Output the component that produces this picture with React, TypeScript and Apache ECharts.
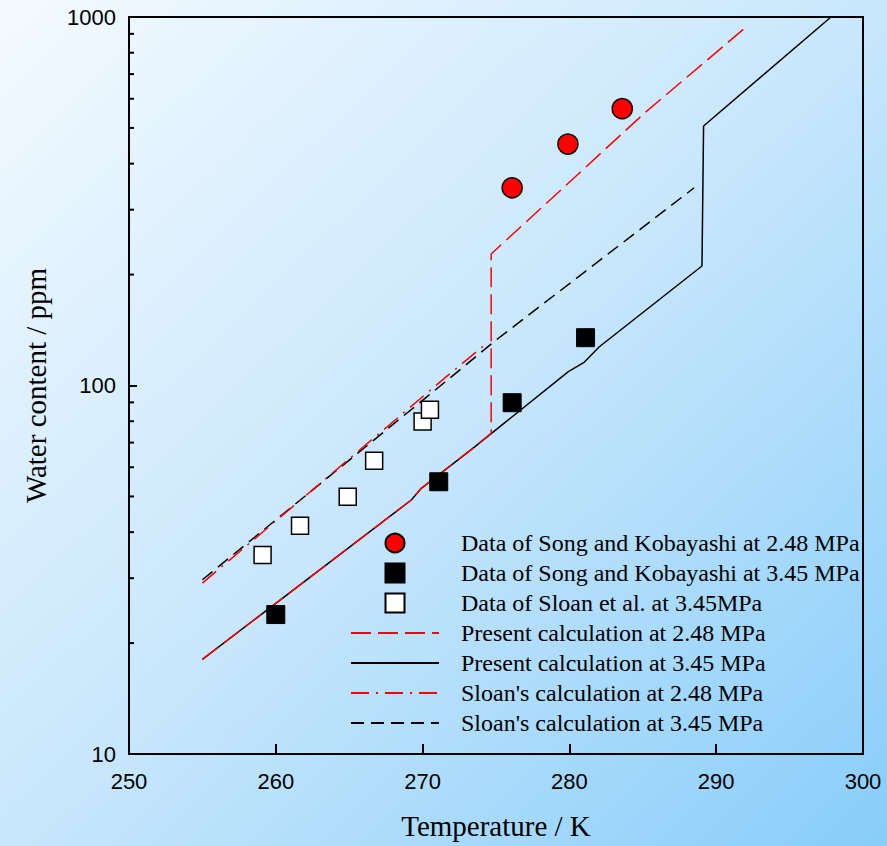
import React, { useEffect, useRef } from "react";
import * as echarts from "echarts";

// ---- data (Temperature K, Water content ppm) ----
const songKobayashi248: [number, number][] = [
  [276.1, 344],
  [279.9, 452],
  [283.6, 564],
];
const songKobayashi345: [number, number][] = [
  [260.0, 23.9],
  [271.1, 54.8],
  [276.1, 89.8],
  [281.1, 134.8],
];
const sloanData345: [number, number][] = [
  [259.1, 34.7],
  [261.65, 41.6],
  [264.9, 49.9],
  [266.7, 62.5],
  [270.0, 79.8],
  [270.5, 86.0],
];
const presentCalc248: [number, number][] = [
  [255.0, 18.07],
  [269.23, 48.9],
  [269.91, 52.6],
  [273.42, 67.5],
  [274.67, 74.2],
  [274.67, 227.5],
  [279.54, 342.8],
  [285.1, 548],
  [292.02, 938],
];
const presentCalc345: [number, number][] = [
  [255.0, 18.07],
  [269.23, 48.9],
  [269.91, 52.6],
  [273.42, 67.5],
  [279.93, 109.0],
  [280.97, 115.3],
  [282.04, 127.4],
  [289.03, 211],
  [289.14, 506],
  [297.82, 1000],
];
const sloanCalc248: [number, number][] = [
  [255.0, 29.1],
  [271.84, 107.5],
  [274.37, 130.2],
];
const sloanCalc345: [number, number][] = [
  [255.0, 29.7],
  [271.84, 104.6],
  [275.01, 132.9],
  [288.5, 344],
];
const minorTickValues: number[] = [20, 30, 40, 50, 60, 70, 80, 90, 200, 300, 400, 500, 600, 700, 800, 900];

const names = [
  "Data of Song and Kobayashi at 2.48 MPa",
  "Data of Song and Kobayashi at 3.45 MPa",
  "Data of Sloan et al. at 3.45MPa",
  "Present calculation at 2.48 MPa",
  "Present calculation at 3.45 MPa",
  "Sloan's calculation at 2.48 MPa",
  "Sloan's calculation at 3.45 MPa",
];

const SERIF = "'Liberation Serif', 'Times New Roman', serif";
const SANS = "'Liberation Sans', Arial, sans-serif";
const SQUARE = "path://M0,0L10,0L10,10L0,10Z";

export default function App() {
  const ref = useRef<HTMLDivElement>(null);
  useEffect(() => {
    if (!ref.current) return;
    const chart = echarts.init(ref.current, undefined, { renderer: "svg" });
    const legendData = names.map((n, i) =>
      i >= 3 ? { name: n, itemStyle: { opacity: 0 } } : { name: n }
    );
    const option: any = {
      animation: false,
      backgroundColor: "transparent",
      grid: {
        left: 129,
        right: 24,
        top: 17,
        bottom: 92,
        show: true,
        borderColor: "#000",
        borderWidth: 2,
        backgroundColor: "transparent",
      },
      legend: {
        orient: "vertical",
        left: 350,
        top: 531,
        padding: 0,
        itemWidth: 88,
        itemHeight: 19,
        itemGap: 6,
        textStyle: { fontFamily: SERIF, fontSize: 24, color: "#000", padding: [0, 0, 0, 17] },
        data: legendData,
      },
      xAxis: {
        type: "value",
        min: 250,
        max: 300,
        interval: 10,
        name: "Temperature / K",
        nameLocation: "middle",
        nameGap: 57,
        nameTextStyle: { fontFamily: SERIF, fontSize: 29, color: "#000" },
        axisLine: { lineStyle: { color: "#000", width: 2 } },
        axisTick: { inside: true, length: 10, lineStyle: { color: "#000", width: 2 } },
        axisLabel: { fontFamily: SANS, fontSize: 22, color: "#000", margin: 16 },
        splitLine: { show: false },
      },
      yAxis: {
        type: "log",
        logBase: 10,
        min: 10,
        max: 1000,
        name: "Water content / ppm",
        nameLocation: "middle",
        nameGap: 79,
        nameTextStyle: { fontFamily: SERIF, fontSize: 29, color: "#000" },
        axisLine: { lineStyle: { color: "#000", width: 2 } },
        axisTick: { inside: true, length: 8, lineStyle: { color: "#000", width: 2 } },
        axisLabel: {
          fontFamily: SANS,
          fontSize: 22,
          color: "#000",
          margin: 13,
          formatter: (v: number) => String(Math.round(v)),
        },
        splitLine: { show: false },
      },
      series: [
        {
          name: names[0],
          type: "scatter",
          data: songKobayashi248,
          symbol: "circle",
          symbolSize: 20,
          z: 5,
          itemStyle: { color: "#ff0000", borderColor: "#000", borderWidth: 1.5, opacity: 1 },
        },
        {
          name: names[1],
          type: "scatter",
          data: songKobayashi345,
          symbol: SQUARE,
          symbolSize: 18,
          z: 5,
          itemStyle: { color: "#000", borderColor: "#000", borderWidth: 1, opacity: 1 },
        },
        {
          name: names[2],
          type: "scatter",
          data: sloanData345,
          symbol: SQUARE,
          symbolSize: 17,
          z: 5,
          itemStyle: { color: "#fff", borderColor: "#000", borderWidth: 1.5, opacity: 1 },
        },
        {
          name: names[3],
          type: "line",
          data: presentCalc248,
          symbol: "none",
          z: 3,
          lineStyle: { color: "#ff0000", width: 1.5, type: [20, 7] },
          itemStyle: { color: "#ff0000" },
        },
        {
          name: names[4],
          type: "line",
          data: presentCalc345,
          symbol: "none",
          z: 2,
          lineStyle: { color: "#000", width: 1.5, type: "solid" },
          itemStyle: { color: "#000" },
        },
        {
          name: names[5],
          type: "line",
          data: sloanCalc248,
          symbol: "none",
          z: 3,
          lineStyle: { color: "#ff0000", width: 1.5, type: [18, 7, 2, 7] },
          itemStyle: { color: "#ff0000" },
        },
        {
          name: names[6],
          type: "line",
          data: sloanCalc345,
          symbol: "none",
          z: 2,
          lineStyle: { color: "#000", width: 1.5, type: [13, 7] },
          itemStyle: { color: "#000" },
        },
        {
          name: "minorTicks",
          type: "custom",
          silent: true,
          clip: false,
          z: 6,
          encode: { x: 0, y: 1 },
          data: minorTickValues.map((v) => [250, v]),
          renderItem: (params: any, api: any) => {
            const p = api.coord([api.value(0), api.value(1)]);
            return {
              type: "line",
              shape: { x1: p[0], y1: p[1], x2: p[0] + 5, y2: p[1] },
              style: { stroke: "#000", lineWidth: 2 },
            };
          },
        },
      ],
    };
    chart.setOption(option);
    return () => chart.dispose();
  }, []);
  return (
    <div
      ref={ref}
      style={{
        position: "absolute",
        left: 0,
        top: 0,
        width: 887,
        height: 846,
        background: "linear-gradient(to bottom right, #f4faff 0%, #c8e7fc 50%, #88cdfa 100%)",
      }}
    />
  );
}
